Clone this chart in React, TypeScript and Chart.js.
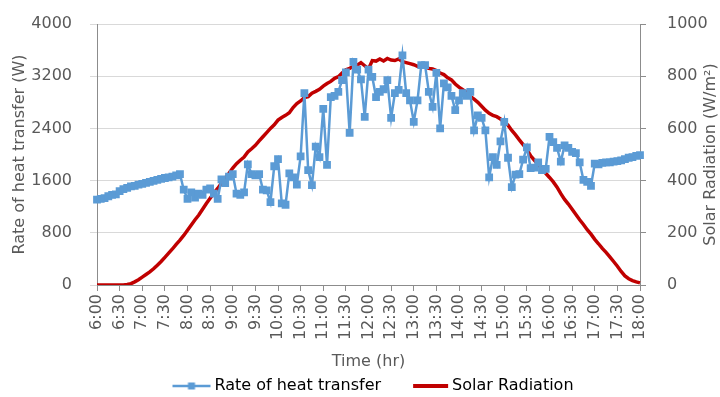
import React, { useEffect, useRef } from 'react';
import { Chart, registerables } from 'chart.js';

Chart.register(...registerables);

const FONT = '"DejaVu Sans", sans-serif';
const FONT_SIZE = 16;
const TEXT_COLOR = '#595959';
const AXIS_COLOR = '#8c8c8c';
const GRID_COLOR = '#d9d9d9';
const BLUE = '#5B9BD5';
const RED = '#C00000';

// 5-minute time categories from 6:00 to 18:00
const timeLabels: string[] = [];
for (let m = 360; m <= 1080; m += 5) {
  timeLabels.push(`${Math.floor(m / 60)}:${String(m % 60).padStart(2, '0')}`);
}

// Rate of heat transfer (W), left axis
const heatTransfer = [
  1310, 1320, 1330, 1360, 1380, 1390, 1440, 1470, 1490, 1510, 1520, 1540,
  1550, 1565, 1580, 1595, 1610, 1625, 1640, 1650, 1660, 1680, 1700, 1460,
  1320, 1420, 1340, 1400, 1380, 1460, 1480, 1400, 1320, 1620, 1560, 1660,
  1700, 1400, 1380, 1420, 1850, 1700, 1680, 1700, 1460, 1450, 1270, 1820,
  1930, 1250, 1230, 1710, 1650, 1540, 1970, 2940, 1760, 1530, 2120, 1960,
  2700, 1840, 2880, 2900, 2960, 3140, 3260, 2330, 3420, 3300, 3150, 2575,
  3300, 3190, 2880, 2960, 3000, 3140, 2560, 2940, 2990, 3520, 2940, 2830,
  2500, 2830, 3370, 3370, 2960, 2730, 3250, 2400, 3090, 3030, 2900, 2680,
  2830, 2940, 2900, 2960, 2370, 2600, 2560, 2370, 1650, 1960, 1840, 2200,
  2500, 1950, 1500, 1690, 1700, 1920, 2110, 1790, 1800, 1880, 1760, 1780,
  2270, 2190, 2100, 1890, 2140, 2100, 2040, 2020, 1880, 1610, 1580, 1520,
  1860, 1850, 1870, 1880, 1880, 1890, 1900, 1910, 1930, 1950, 1960, 1980,
  1990,
];

// Solar radiation (W/m2), right axis
const solarRadiation = [
  0, 0, 0, 0, 0, 0, 0, 0, 2, 5, 12, 20,
  30, 40, 50, 62, 76, 90, 106, 122, 138, 156, 172, 190,
  210, 230, 250, 268, 290, 312, 332, 352, 370, 390, 410, 428,
  448, 465, 478, 490, 510, 522, 535, 552, 568, 584, 600, 614,
  632, 642, 650, 660, 680, 695, 705, 718, 722, 735, 742, 750,
  762, 772, 780, 792, 798, 812, 825, 830, 838, 842, 852, 840,
  828, 860, 858, 866, 858, 868, 862, 860, 866, 856, 852, 848,
  844, 838, 834, 836, 830, 828, 822, 812, 806, 794, 786, 770,
  758, 748, 738, 722, 712, 700, 685, 670, 658, 650, 645, 636,
  625, 612, 592, 575, 556, 538, 518, 495, 478, 462, 445, 428,
  412, 395, 375, 350, 328, 310, 290, 270, 250, 232, 212, 195,
  175, 158, 140, 125, 108, 90, 72, 52, 35, 24, 17, 12,
  8,
];

const seriesNames = ['Rate of heat transfer', 'Solar Radiation'];
const leftTitle = 'Rate of heat transfer (W)';
const rightTitle = 'Solar Radiation (W/m²)';
const xTitle = 'Time (hr)';

function makeLegendImage(kind: 'blue' | 'red'): HTMLCanvasElement {
  const c = document.createElement('canvas');
  c.width = 72;
  c.height = 16;
  const g = c.getContext('2d')!;
  if (kind === 'blue') {
    g.strokeStyle = BLUE;
    g.lineWidth = 2.5;
    g.beginPath();
    g.moveTo(32, 8);
    g.lineTo(70, 8);
    g.stroke();
    g.fillStyle = BLUE;
    g.fillRect(47.5, 4.5, 7, 7);
  } else {
    g.strokeStyle = RED;
    g.lineWidth = 4;
    g.beginPath();
    g.moveTo(35, 8);
    g.lineTo(70, 8);
    g.stroke();
  }
  return c;
}

const rightTitlePlugin = {
  id: 'rightTitleUp',
  afterDraw(chart: any) {
    const { ctx, chartArea } = chart;
    const scale = chart.scales.y1;
    ctx.save();
    ctx.font = `${FONT_SIZE}px ${FONT}`;
    ctx.fillStyle = TEXT_COLOR;
    ctx.textAlign = 'center';
    ctx.textBaseline = 'middle';
    ctx.translate(scale.right - 9, (chartArea.top + chartArea.bottom) / 2);
    ctx.rotate(-Math.PI / 2);
    ctx.fillText(rightTitle, 0, 0);
    ctx.restore();
  },
};

const plainNumber = (v: any) => String(v);

export default function App() {
  const canvasRef = useRef<HTMLCanvasElement | null>(null);

  useEffect(() => {
    if (!canvasRef.current) return;
    const blueImg = makeLegendImage('blue');
    const redImg = makeLegendImage('red');

    const chart = new Chart(canvasRef.current, {
      type: 'line',
      data: {
        labels: timeLabels,
        datasets: [
          {
            label: seriesNames[0],
            data: heatTransfer,
            borderColor: BLUE,
            backgroundColor: BLUE,
            borderWidth: 2.5,
            pointStyle: 'rect',
            pointRadius: 5.5,
            pointBorderWidth: 0,
            pointBackgroundColor: BLUE,
            tension: 0,
            yAxisID: 'y',
          },
          {
            label: seriesNames[1],
            data: solarRadiation,
            borderColor: RED,
            backgroundColor: RED,
            borderWidth: 3.5,
            pointRadius: 0,
            tension: 0,
            yAxisID: 'y1',
          },
        ],
      },
      options: {
        animation: false,
        responsive: true,
        maintainAspectRatio: false,
        layout: { autoPadding: false, padding: { top: 24, left: 0, right: 0, bottom: -7 } },
        plugins: {
          tooltip: { enabled: false },
          legend: {
            position: 'bottom',
            labels: {
              usePointStyle: true,
              pointStyleWidth: 60,
              padding: 3,
              color: '#404040',
              font: { family: FONT, size: FONT_SIZE },
              generateLabels: () => [
                { text: seriesNames[0], pointStyle: blueImg, fillStyle: BLUE, strokeStyle: BLUE, lineWidth: 0, hidden: false, datasetIndex: 0 },
                { text: seriesNames[1], pointStyle: redImg, fillStyle: RED, strokeStyle: RED, lineWidth: 0, hidden: false, datasetIndex: 1 },
              ] as any,
            },
          },
        },
        scales: {
          x: {
            type: 'category',
            offset: false,
            afterFit: (scale: any) => {
              scale.height = 90;
            },
            grid: {
              display: true,
              drawOnChartArea: false,
              drawTicks: true,
              tickLength: 6,
              tickColor: (ctx: any) => (ctx.index % 6 === 0 ? AXIS_COLOR : 'rgba(0,0,0,0)'),
            },
            border: { display: true, color: AXIS_COLOR, width: 1 },
            ticks: {
              autoSkip: false,
              minRotation: 90,
              maxRotation: 90,
              padding: 3,
              color: TEXT_COLOR,
              font: { family: FONT, size: FONT_SIZE },
              callback: (_v: any, index: number) => (index % 6 === 0 ? timeLabels[index] : ''),
            },
            title: {
              display: true,
              text: xTitle,
              color: TEXT_COLOR,
              font: { family: FONT, size: FONT_SIZE },
              padding: { top: 0, bottom: 4 },
            },
          },
          y: {
            type: 'linear',
            position: 'left',
            min: 0,
            max: 4000,
            afterFit: (scale: any) => {
              scale.width = 97;
              scale.paddingTop = 0;
              scale.paddingBottom = 0;
            },
            ticks: { stepSize: 800, padding: 18, color: TEXT_COLOR, font: { family: FONT, size: FONT_SIZE }, callback: plainNumber },
            grid: { color: GRID_COLOR, tickColor: GRID_COLOR, tickLength: 7, lineWidth: 1 },
            border: { display: true, color: AXIS_COLOR, width: 1 },
            title: {
              display: true,
              text: leftTitle,
              color: TEXT_COLOR,
              font: { family: FONT, size: FONT_SIZE },
              padding: { top: 10, bottom: 0 },
            },
          },
          y1: {
            type: 'linear',
            position: 'right',
            min: 0,
            max: 1000,
            afterFit: (scale: any) => {
              scale.width = 80;
              scale.paddingTop = 0;
              scale.paddingBottom = 0;
            },
            ticks: { stepSize: 200, padding: 21, color: TEXT_COLOR, font: { family: FONT, size: FONT_SIZE }, callback: plainNumber },
            grid: { drawOnChartArea: false, tickColor: AXIS_COLOR, tickLength: 6 },
            border: { display: true, color: AXIS_COLOR, width: 1 },
          },
        },
      },
      plugins: [rightTitlePlugin],
    });

    return () => chart.destroy();
  }, []);

  return (
    <div style={{ position: 'absolute', left: 0, top: 0, width: 720, height: 397, background: '#fff' }}>
      <canvas ref={canvasRef} />
    </div>
  );
}
